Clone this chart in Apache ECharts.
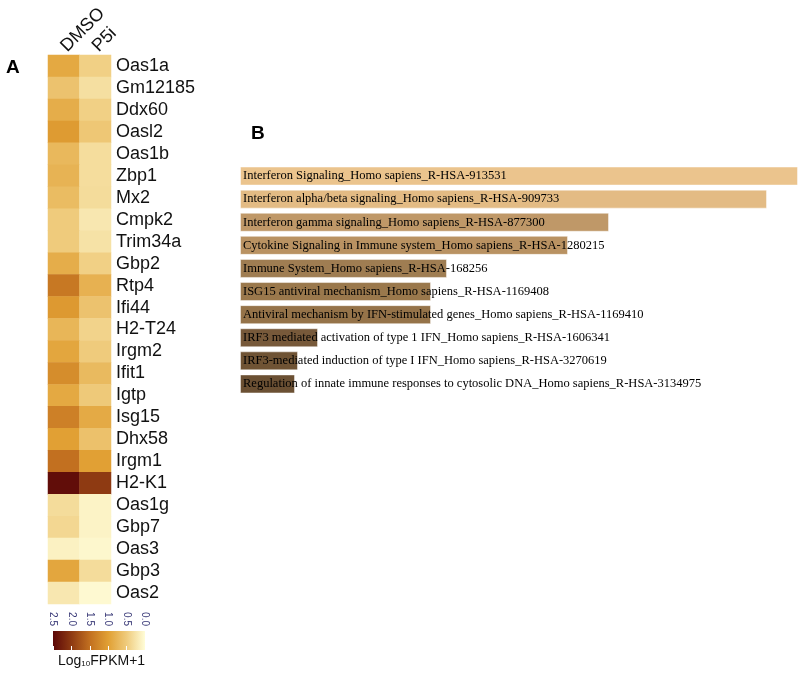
<!DOCTYPE html>
<html>
<head>
<meta charset="utf-8">
<script src="https://cdn.jsdelivr.net/npm/echarts@6/dist/echarts.min.js"></script>
<style>html,body{margin:0;padding:0;background:#fff}#c{width:800px;height:674px}</style>
</head>
<body>
<div id="c"></div>
<script>
// ---- Heatmap (panel A) ----
var genes = ['Oas1a','Gm12185','Ddx60','Oasl2','Oas1b','Zbp1','Mx2','Cmpk2','Trim34a','Gbp2','Rtp4','Ifi44','H2-T24','Irgm2','Ifit1','Igtp','Isg15','Dhx58','Irgm1','H2-K1','Oas1g','Gbp7','Oas3','Gbp3','Oas2'];
var conditions = ['DMSO','P5i'];
var dmso = [0.9,0.6,0.85,1.05,0.72,0.78,0.68,0.5,0.5,0.85,1.42,1.07,0.75,0.93,1.2,0.9,1.33,1.0,1.5,2.45,0.33,0.38,0.12,0.93,0.22];
var p5i  = [0.45,0.3,0.45,0.55,0.32,0.32,0.33,0.22,0.27,0.45,0.8,0.6,0.42,0.5,0.7,0.52,0.88,0.62,1.0,2.0,0.1,0.1,0.06,0.33,0.04];
var legendTicks = [0, 0.5, 1.0, 1.5, 2.0, 2.5];
var palette = ['#FFFDD8','#EFCB7C','#E1A034','#C27020','#8E3A12','#5C0808'];

// ---- Enrichment bars (panel B) ----
var terms = [
  'Interferon Signaling_Homo sapiens_R-HSA-913531',
  'Interferon alpha/beta signaling_Homo sapiens_R-HSA-909733',
  'Interferon gamma signaling_Homo sapiens_R-HSA-877300',
  'Cytokine Signaling in Immune system_Homo sapiens_R-HSA-1280215',
  'Immune System_Homo sapiens_R-HSA-168256',
  'ISG15 antiviral mechanism_Homo sapiens_R-HSA-1169408',
  'Antiviral mechanism by IFN-stimulated genes_Homo sapiens_R-HSA-1169410',
  'IRF3 mediated activation of type 1 IFN_Homo sapiens_R-HSA-1606341',
  'IRF3-mediated induction of type I IFN_Homo sapiens_R-HSA-3270619',
  'Regulation of innate immune responses to cytosolic DNA_Homo sapiens_R-HSA-3134975'
];
var scores = [55.8, 52.7, 36.9, 32.8, 20.7, 19.1, 19.1, 7.8, 5.8, 5.5];
var barColors = ['#EBC48D','#E3BB84','#BF9868','#B99262','#9F7D52','#9A784C','#957349','#77593A','#6F5334','#6B5033'];

var heatData = [];
genes.forEach(function(g, i){
  heatData.push([0, i, dmso[i]]);
  heatData.push([1, i, p5i[i]]);
});

var gradStops = legendTicks.map(function(v, i){
  return {offset: 1 - v / 2.5, color: palette[i]};
});

var chart = echarts.init(document.getElementById('c'), null, {renderer: 'canvas'});
var sans = 'Liberation Sans, Arial, sans-serif';
var serif = 'Liberation Serif, Times New Roman, serif';

chart.setOption({
  backgroundColor: '#fff',
  animation: false,
  grid: [
    {left: 48, top: 55, width: 63, height: 549},
    {left: 53, top: 631, width: 92, height: 19, show: true, borderWidth: 0,
      backgroundColor: new echarts.graphic.LinearGradient(0, 0, 1, 0, gradStops)},
    {left: 240, top: 164.5, width: 560, height: 231}
  ],
  xAxis: [
    {gridIndex: 0, type: 'category', data: conditions, position: 'top',
      axisLine: {show: false}, axisTick: {show: false},
      axisLabel: {interval: 0, rotate: -45, fontSize: 18, color: '#111', fontFamily: sans, margin: 6}},
    {gridIndex: 1, type: 'value', min: 0, max: 2.5, interval: 0.5, inverse: true, position: 'top',
      axisLine: {show: false}, axisTick: {show: false}, splitLine: {show: false},
      axisLabel: {rotate: 90, fontSize: 10, color: '#3a3a78', fontFamily: sans, margin: 5,
        formatter: function(v){ return v.toFixed(1); }}},
    {gridIndex: 1, type: 'value', min: 0, max: 2.5, interval: 0.5, inverse: true, position: 'bottom',
      axisLine: {show: false}, axisLabel: {show: false}, splitLine: {show: false},
      axisTick: {show: true, inside: true, length: 4, lineStyle: {color: '#ffffff', width: 1}}},
    {gridIndex: 2, type: 'value', min: 0, max: 56, show: false}
  ],
  yAxis: [
    {gridIndex: 0, type: 'category', data: genes, inverse: true, position: 'right',
      axisLine: {show: false}, axisTick: {show: false},
      axisLabel: {interval: 0, fontSize: 18, color: '#111', fontFamily: sans, margin: 5}},
    {gridIndex: 1, type: 'category', data: [''], show: false},
    {gridIndex: 2, type: 'category', data: terms, inverse: true, show: false}
  ],
  visualMap: {
    show: false, min: 0, max: 2.5, seriesIndex: 0, dimension: 2,
    inRange: {color: palette}
  },
  series: [
    {type: 'heatmap', xAxisIndex: 0, yAxisIndex: 0, data: heatData,
      itemStyle: {borderWidth: 0}},
    {type: 'bar', xAxisIndex: 3, yAxisIndex: 2, barWidth: 19,
      data: scores.map(function(v, i){
        return {value: v, itemStyle: {color: barColors[i], borderColor: 'rgba(255,255,255,0.45)', borderWidth: 1}};
      }),
      label: {show: true, position: 'insideLeft', distance: 3, color: '#000',
        fontFamily: serif, fontSize: 12.5,
        formatter: function(p){ return terms[p.dataIndex]; }}}
  ],
  graphic: [
    {type: 'text', left: 6, top: 58, style: {text: 'A', font: 'bold 19px ' + sans, fill: '#000'}},
    {type: 'text', left: 251, top: 124, style: {text: 'B', font: 'bold 19px ' + sans, fill: '#000'}},
    {type: 'text', left: 58, top: 654, style: {
      text: '{n|Log}{s|10}{n|FPKM+1}',
      rich: {
        n: {fontSize: 14, fontFamily: sans, fill: '#111', color: '#111'},
        s: {fontSize: 8, fontFamily: sans, fill: '#111', color: '#111', verticalAlign: 'bottom', padding: [6, 0, 0, 0]}
      }
    }}
  ]
});
</script>
</body>
</html>
